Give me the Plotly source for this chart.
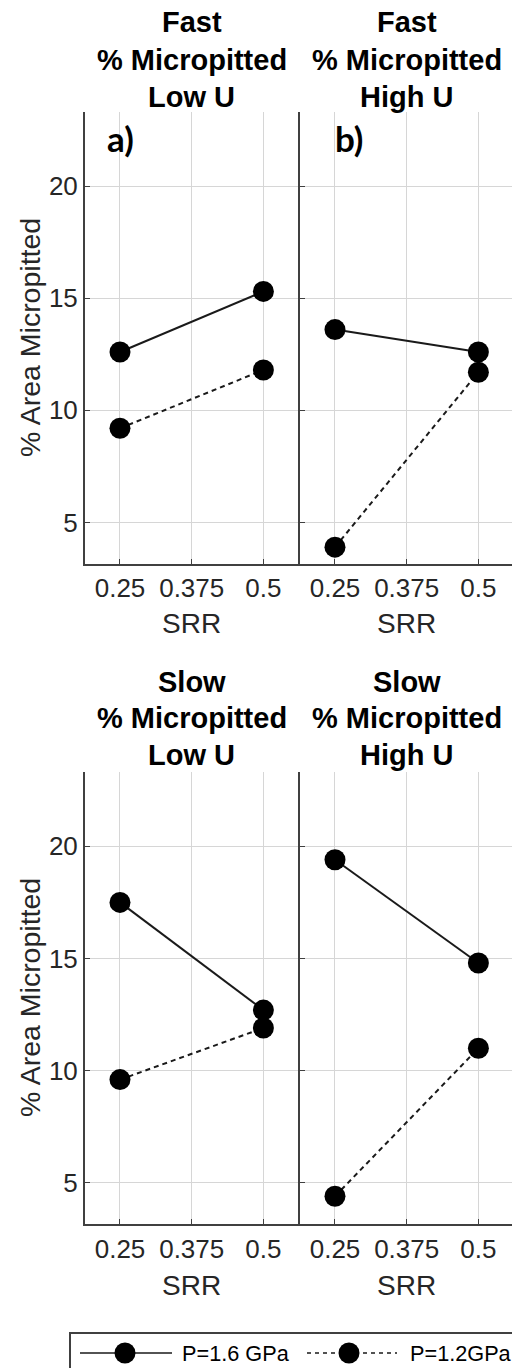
import plotly.graph_objects as go

# SRR levels tested
srr = [0.25, 0.5]

# % area micropitted, P=1.6 GPa and P=1.2 GPa, for each speed / entrainment case
fast_low_p16 = [12.6, 15.3]
fast_low_p12 = [9.2, 11.8]
fast_high_p16 = [13.6, 12.6]
fast_high_p12 = [3.9, 11.7]
slow_low_p16 = [17.5, 12.7]
slow_low_p12 = [9.6, 11.9]
slow_high_p16 = [19.4, 14.8]
slow_high_p12 = [4.4, 11.0]

x_ticks = [0.25, 0.375, 0.5]
x_tick_text = ["0.25", "0.375", "0.5"]
y_ticks = [5, 10, 15, 20]
series_names = ["P=1.6 GPa", "P=1.2GPa"]

W, H = 512, 1368


def fx(px):
    return px / W


def fy(py):
    return 1 - py / H


FONT = "Liberation Sans, Arial, sans-serif"
TICK_COLOR = "#262626"
AXIS_COLOR = "#404040"
GRID_COLOR = "#d6d6d6"
LINE_COLOR = "#1a1a1a"
DASH = "5px,4px"

fig = go.Figure()

panels = [
    ("x", "y", fast_low_p16, fast_low_p12),
    ("x2", "y2", fast_high_p16, fast_high_p12),
    ("x3", "y3", slow_low_p16, slow_low_p12),
    ("x4", "y4", slow_high_p16, slow_high_p12),
]

for xa, ya, p16, p12 in panels:
    fig.add_trace(go.Scatter(
        x=srr, y=p16, xaxis=xa, yaxis=ya, mode="lines+markers",
        name=series_names[0], showlegend=False,
        line=dict(color=LINE_COLOR, width=2),
        marker=dict(color="black", size=21),
    ))
    fig.add_trace(go.Scatter(
        x=srr, y=p12, xaxis=xa, yaxis=ya, mode="lines+markers",
        name=series_names[1], showlegend=False,
        line=dict(color=LINE_COLOR, width=2, dash=DASH),
        marker=dict(color="black", size=21),
    ))

y_range = [3.15, 23.3]
top_dom = [fy(564), fy(112)]
bot_dom = [fy(1224.3), fy(772.3)]
left_dom = [fx(85), fx(300)]
right_dom = [fx(300), 1.0]
left_range = [0.189, 0.5638]
right_range = [0.189, 0.5586]

common_x = dict(
    tickvals=x_ticks, ticktext=x_tick_text, showgrid=True, gridcolor=GRID_COLOR,
    gridwidth=1, showline=True, linecolor=AXIS_COLOR, linewidth=2,
    ticks="inside", ticklen=5, tickcolor=AXIS_COLOR, zeroline=False,
    tickfont=dict(family=FONT, size=26, color=TICK_COLOR), fixedrange=True,
)
common_y = dict(
    tickvals=y_ticks, range=y_range, showgrid=True, gridcolor=GRID_COLOR,
    gridwidth=1, showline=True, linecolor=AXIS_COLOR, linewidth=2,
    ticks="inside", ticklen=5, tickcolor=AXIS_COLOR, zeroline=False,
    tickfont=dict(family=FONT, size=26, color=TICK_COLOR), fixedrange=True,
)

fig.update_layout(
    xaxis=dict(common_x, domain=left_dom, range=left_range, anchor="y"),
    xaxis2=dict(common_x, domain=right_dom, range=right_range, anchor="y2"),
    xaxis3=dict(common_x, domain=left_dom, range=left_range, anchor="y3"),
    xaxis4=dict(common_x, domain=right_dom, range=right_range, anchor="y4"),
    yaxis=dict(common_y, domain=top_dom, anchor="x"),
    yaxis2=dict(common_y, domain=top_dom, anchor="x2", showticklabels=False),
    yaxis3=dict(common_y, domain=bot_dom, anchor="x3"),
    yaxis4=dict(common_y, domain=bot_dom, anchor="x4", showticklabels=False),
)

annotations = []

# panel titles
title_lines = {
    ("x", "top"): ["Fast", "% Micropitted", "Low U"],
    ("x2", "top"): ["Fast", "% Micropitted", "High U"],
    ("x3", "bot"): ["Slow", "% Micropitted", "Low U"],
    ("x4", "bot"): ["Slow", "% Micropitted", "High U"],
}
line_y = {"top": [22, 60, 97], "bot": [682, 718, 755]}
for (xa, row), lines in title_lines.items():
    for txt, py in zip(lines, line_y[row]):
        annotations.append(dict(
            text=f"<b>{txt}</b>", xref=xa, x=0.375, yref="paper", y=fy(py),
            xanchor="center", yanchor="middle", showarrow=False,
            font=dict(family=FONT, size=29, color="black"),
        ))

# x axis titles
for xa, py in [("x", 623), ("x2", 623), ("x3", 1285), ("x4", 1285)]:
    annotations.append(dict(
        text="SRR", xref=xa, x=0.375, yref="paper", y=fy(py),
        xanchor="center", yanchor="middle", showarrow=False,
        font=dict(family=FONT, size=28, color=TICK_COLOR),
    ))

# y axis titles
for py in [338, 998]:
    annotations.append(dict(
        text="% Area Micropitted", xref="paper", x=fx(30), yref="paper", y=fy(py),
        xanchor="center", yanchor="middle", textangle=-90, showarrow=False,
        font=dict(family=FONT, size=28.5, color=TICK_COLOR),
    ))

# panel letters
for txt, px in [("a)", 120), ("b)", 349)]:
    annotations.append(dict(
        text=f"<b>{txt}</b>", xref="paper", x=fx(px), yref="paper", y=fy(138),
        xanchor="center", yanchor="middle", showarrow=False,
        font=dict(family="Lato, Open Sans, sans-serif", size=35, color="black"),
    ))

# legend key, drawn below the panels
shapes = []
leg_y = fy(1353)
shapes.append(dict(
    type="rect", xref="paper", yref="paper",
    x0=fx(70), x1=fx(530), y0=fy(1333), y1=fy(1390),
    line=dict(color=AXIS_COLOR, width=2), fillcolor="white", layer="above",
))
legend_items = [
    (series_names[0], 80, 172, 125, 180, "solid"),
    (series_names[1], 307, 397, 349, 408, "4px,4px"),
]
for name, lx0, lx1, mx, tx, dash in legend_items:
    shapes.append(dict(
        type="line", xref="paper", yref="paper",
        x0=fx(lx0), x1=fx(lx1), y0=leg_y, y1=leg_y,
        line=dict(color=LINE_COLOR, width=1.5, dash=dash), layer="above",
    ))
    r = 10.5
    shapes.append(dict(
        type="circle", xref="paper", yref="paper",
        x0=fx(mx - r), x1=fx(mx + r), y0=fy(1353 + r), y1=fy(1353 - r),
        line=dict(color="black", width=0), fillcolor="black", layer="above",
    ))
    annotations.append(dict(
        text=name, xref="paper", x=fx(tx), yref="paper", y=leg_y,
        xanchor="left", yanchor="middle", showarrow=False,
        font=dict(family=FONT, size=21.7, color="black"),
    ))

fig.update_layout(
    annotations=annotations,
    shapes=shapes,
    width=W, height=H,
    margin=dict(l=0, r=0, t=0, b=0, autoexpand=False),
    paper_bgcolor="white", plot_bgcolor="white",
    showlegend=False,
)

fig.write_html("out.html")
